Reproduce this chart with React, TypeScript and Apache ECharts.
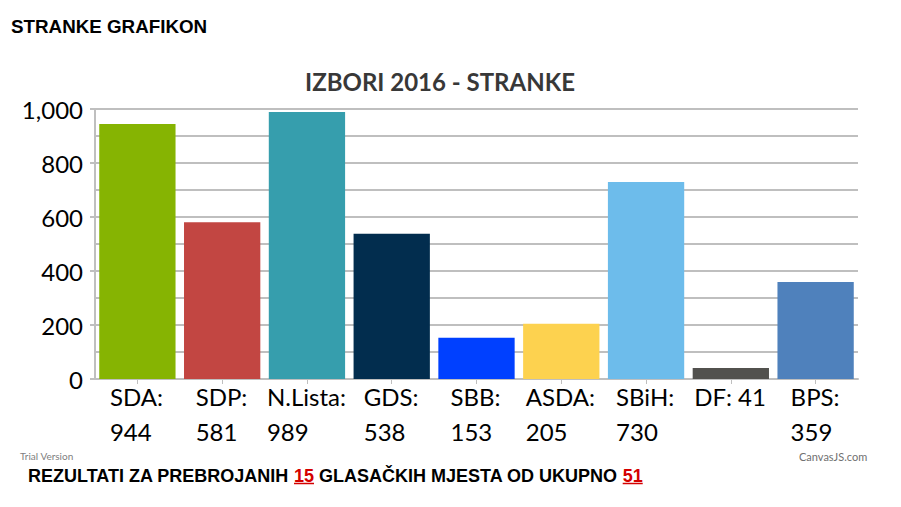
import React, { useEffect, useRef } from "react";
import * as echarts from "echarts";

const parties = ["SDA", "SDP", "N.Lista", "GDS", "SBB", "ASDA", "SBiH", "DF", "BPS"];
const votes = [944, 581, 989, 538, 153, 205, 730, 41, 359];
const barColors = ["#86b402", "#c24642", "#369ead", "#022d4e", "#0040ff", "#fdd24f", "#6dbceb", "#52514e", "#4f81bc"];
const yTicks = [0, 200, 400, 600, 800, 1000];
const chartTitle = "IZBORI 2016 - STRANKE";
const pageTitle = "STRANKE GRAFIKON";
const footerParts = ["REZULTATI ZA PREBROJANIH ", "15", " GLASAČKIH MJESTA OD UKUPNO ", "51"];

const LABEL_FONT = "24px Lato";
const FOOT_FONT_SIZE = 18;
const FOOT_FONT = `bold ${FOOT_FONT_SIZE}px 'Liberation Sans'`;

function measure(text: string, font: string): number {
  const c = document.createElement("canvas");
  const ctx = c.getContext("2d")!;
  ctx.font = font;
  return ctx.measureText(text).width;
}

export default function App() {
  const ref = useRef<HTMLDivElement>(null);
  useEffect(() => {
    if (!ref.current) return;
    const chart = echarts.init(ref.current, undefined, { renderer: "svg" });

    const gridLeft = 95;
    const gridRight = 43;
    const slotW = (901 - gridLeft - gridRight) / parties.length;

    const rich: Record<string, any> = {};
    const oneLine: boolean[] = [];
    parties.forEach((p, i) => {
      const full = `${p}: ${votes[i]}`;
      const fullW = measure(full, LABEL_FONT);
      const single = fullW <= slotW - 4;
      oneLine.push(single);
      const w = single
        ? fullW
        : Math.max(measure(p + ":", LABEL_FONT), measure(String(votes[i]), LABEL_FONT));
      rich["r" + i] = {
        width: Math.ceil(w) + 1,
        align: "left",
        fontFamily: "Lato",
        fontSize: 24,
        lineHeight: 35,
        color: "#000",
      };
    });

    const footX = 28;
    const footY = 476;
    const w0 = measure(footerParts[0], FOOT_FONT);
    const w1 = measure(footerParts[1], FOOT_FONT);
    const w2 = measure(footerParts[2], FOOT_FONT);
    const w3 = measure(footerParts[3], FOOT_FONT);
    const ul1 = footX + w0;
    const ul2 = footX + w0 + w1 + w2;
    const ulY = footY + 7.5;

    const gridColor = "#bfbfbf";

    chart.setOption({
      animation: false,
      backgroundColor: "#ffffff",
      grid: { left: gridLeft, right: gridRight, top: 109, bottom: 128, containLabel: false },
      xAxis: {
        type: "category",
        data: parties,
        axisLine: { show: true, lineStyle: { color: gridColor, width: 2 } },
        axisTick: { show: true, alignWithLabel: true, length: 5, lineStyle: { color: gridColor, width: 1 } },
        axisLabel: {
          interval: 0,
          margin: 0,
          formatter: (value: string, index: number) =>
            oneLine[index]
              ? `{r${index}|${value}: ${votes[index]}}`
              : `{r${index}|${value}:}\n{r${index}|${votes[index]}}`,
          rich,
        },
      },
      yAxis: {
        type: "value",
        min: yTicks[0],
        max: yTicks[yTicks.length - 1],
        interval: 200,
        axisLine: { show: true, lineStyle: { color: gridColor, width: 2 } },
        axisTick: { show: true, length: 5, lineStyle: { color: gridColor, width: 2 } },
        axisLabel: {
          margin: 12,
          fontFamily: "Lato",
          fontSize: 24,
          color: "#000",
          formatter: (v: number) => v.toLocaleString("en-US"),
        },
        splitLine: { show: true, lineStyle: { color: gridColor, width: 2 } },
        minorTick: { show: false, splitNumber: 2 },
        minorSplitLine: { show: true, lineStyle: { color: gridColor, width: 2 } },
      },
      series: [
        {
          type: "bar",
          data: votes.map((v, i) => ({ value: v, itemStyle: { color: barColors[i] } })),
          barWidth: "90%",
        },
      ],
      graphic: [
        {
          type: "text",
          left: 11,
          top: 17,
          style: { text: pageTitle, font: "bold 18.8px 'Liberation Sans'", fill: "#000" },
        },
        {
          type: "text",
          x: 440,
          y: 81,
          style: {
            text: chartTitle,
            font: "bold 24px Lato",
            fill: "#383838",
            align: "center",
            verticalAlign: "middle",
          },
        },
        {
          type: "text",
          x: 20,
          y: 455.5,
          style: { text: "Trial Version", font: "10px Lato", fill: "#808080", verticalAlign: "middle" },
        },
        {
          type: "text",
          x: 799,
          y: 456.5,
          style: { text: "CanvasJS.com", font: "11px Lato", fill: "#707070", verticalAlign: "middle" },
        },
        {
          type: "text",
          x: footX,
          y: footY,
          style: {
            text: `${footerParts[0]}{r|${footerParts[1]}}${footerParts[2]}{r|${footerParts[3]}}`,
            font: FOOT_FONT,
            fill: "#000",
            verticalAlign: "middle",
            rich: { r: { fill: "#d40000", font: FOOT_FONT } },
          },
        },
        {
          type: "line",
          shape: { x1: ul1, y1: ulY, x2: ul1 + w1, y2: ulY },
          style: { stroke: "#d40000", lineWidth: 1.5 },
        },
        {
          type: "line",
          shape: { x1: ul2, y1: ulY, x2: ul2 + w3, y2: ulY },
          style: { stroke: "#d40000", lineWidth: 1.5 },
        },
      ],
    });
    return () => chart.dispose();
  }, []);
  return <div ref={ref} style={{ width: 901, height: 507, position: "absolute", left: 0, top: 0 }} />;
}
